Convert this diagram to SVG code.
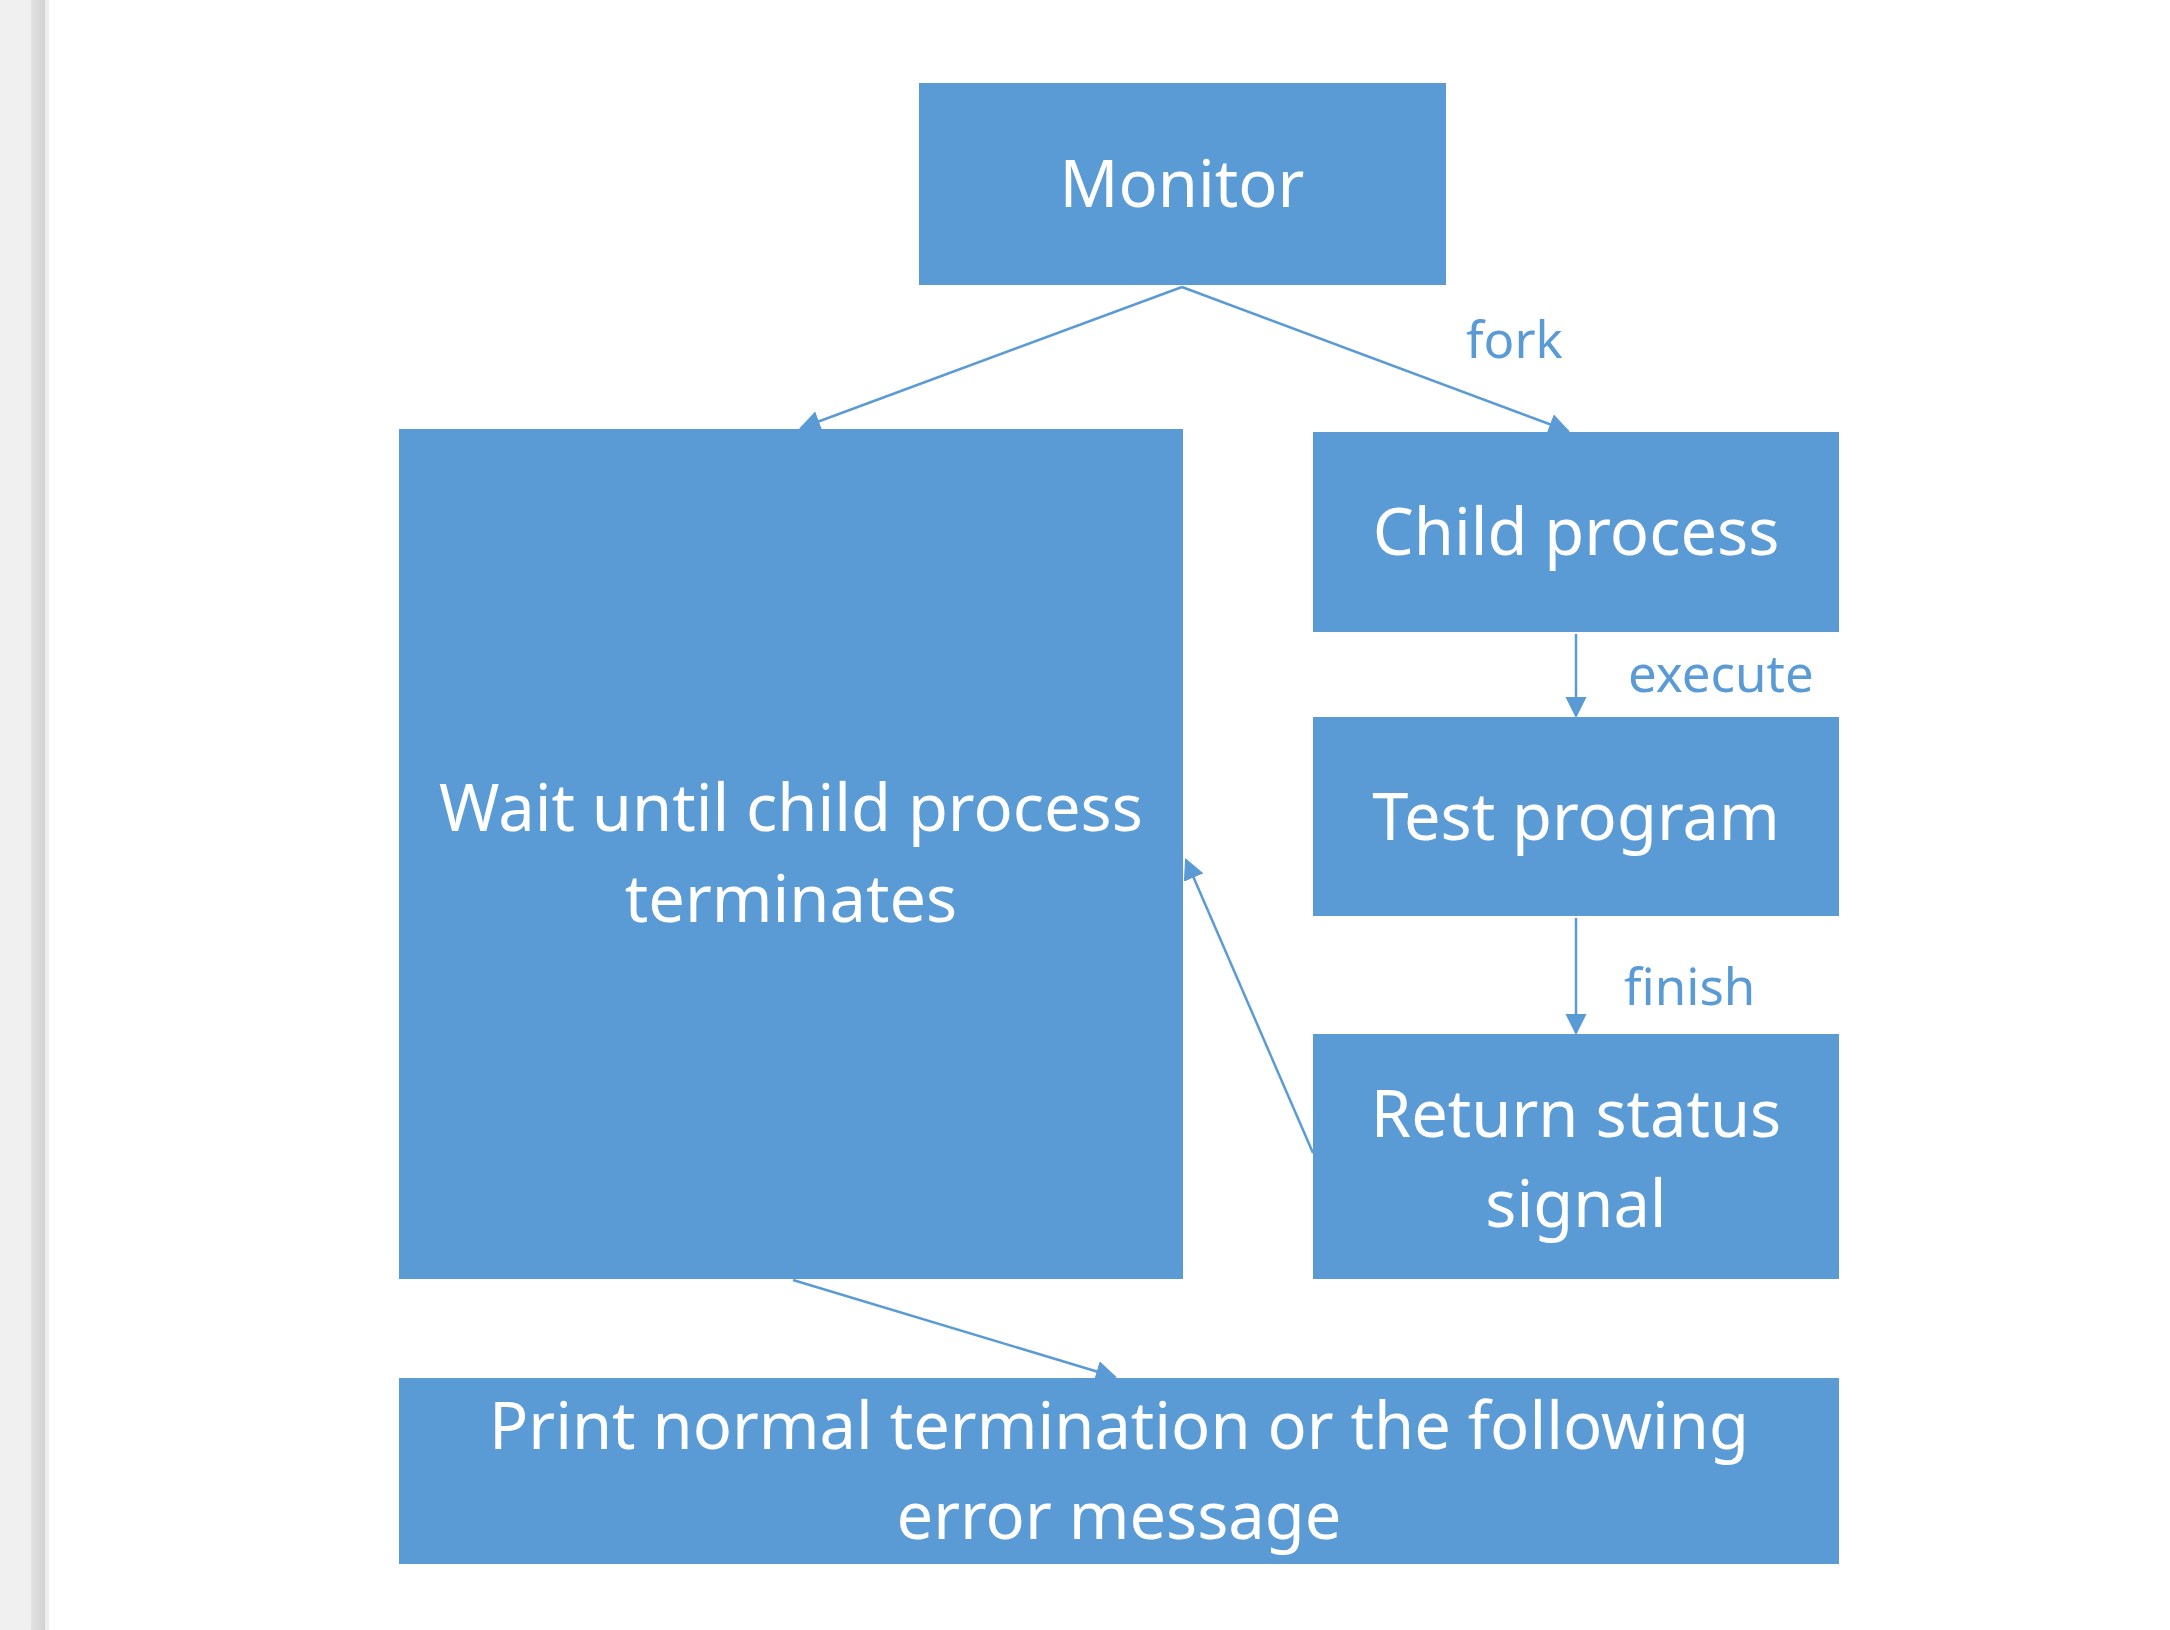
<svg xmlns="http://www.w3.org/2000/svg" width="2170" height="1630" viewBox="0 0 2170 1630">
<style>
.box{fill:#5b9bd5}
.t{font-family:"Noto Sans","Open Sans",sans-serif;font-size:65px;fill:#ffffff;text-anchor:middle}
.lbl{font-family:"Noto Sans","Open Sans",sans-serif;font-size:51px;fill:#5b9bd5}
.c{stroke:#5b9bd5;stroke-width:2.5;fill:none;marker-end:url(#ah)}
</style>
<defs>
<linearGradient id="sh" x1="0" x2="1" y1="0" y2="0">
<stop offset="0" stop-color="#e2e2e2"/>
<stop offset="1" stop-color="#d2d2d2"/>
</linearGradient>
<marker id="ah" viewBox="0 0 10 10" refX="9" refY="5" markerWidth="8.5" markerHeight="8.5" markerUnits="strokeWidth" orient="auto">
<path d="M0,0 L10,5 L0,10 z" fill="#5b9bd5"/>
</marker>
</defs>
<rect x="0" y="0" width="2170" height="1630" fill="#ffffff"/>
<rect x="0" y="0" width="31" height="1630" fill="#f0f0f0"/>
<rect x="31" y="0" width="14" height="1630" fill="url(#sh)"/>
<rect x="45" y="0" width="4" height="1630" fill="#efefef"/>
<g id="connectors">
<line class="c" x1="1182" y1="287" x2="801" y2="428"/>
<line class="c" x1="1182" y1="287" x2="1568" y2="431"/>
<line class="c" x1="1576" y1="634" x2="1576" y2="716"/>
<line class="c" x1="1576" y1="918" x2="1576" y2="1033"/>
<line class="c" x1="1313" y1="1153" x2="1186" y2="860"/>
<line class="c" x1="793" y1="1280" x2="1115" y2="1377"/>
<text class="lbl" x="1466" y="358">fork</text>
<text class="lbl" x="1628" y="692">execute</text>
<text class="lbl" x="1624" y="1005">finish</text>
</g>
<g id="monitor">
<rect class="box" x="919" y="83" width="527" height="202"/>
<text class="t" x="1182" y="207">Monitor</text>
</g>
<g id="wait">
<rect class="box" x="399" y="429" width="784" height="850"/>
<text class="t" x="791" y="831">Wait until child process</text>
<text class="t" x="791" y="922">terminates</text>
</g>
<g id="child">
<rect class="box" x="1313" y="432" width="526" height="200"/>
<text class="t" x="1576" y="555">Child process</text>
</g>
<g id="test">
<rect class="box" x="1313" y="717" width="526" height="199"/>
<text class="t" x="1576" y="840">Test program</text>
</g>
<g id="return">
<rect class="box" x="1313" y="1034" width="526" height="245"/>
<text class="t" x="1576" y="1137">Return status</text>
<text class="t" x="1576" y="1227">signal</text>
</g>
<g id="print">
<rect class="box" x="399" y="1378" width="1440" height="186"/>
<text class="t" x="1119" y="1449">Print normal termination or the following</text>
<text class="t" x="1119" y="1539">error message</text>
</g>
</svg>
